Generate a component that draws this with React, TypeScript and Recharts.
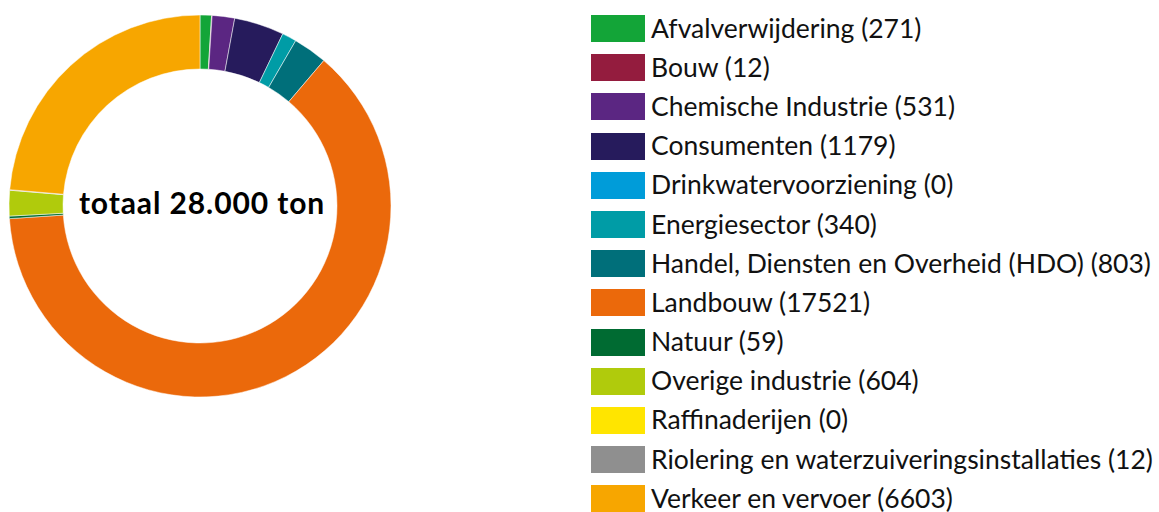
import { PieChart, Pie, Cell, Legend } from 'recharts';

// Emissie per sector (ton)
const sectors = [
    'Afvalverwijdering',
    'Bouw',
    'Chemische Industrie',
    'Consumenten',
    'Drinkwatervoorziening',
    'Energiesector',
    'Handel, Diensten en Overheid (HDO)',
    'Landbouw',
    'Natuur',
    'Overige industrie',
    'Raffinaderijen',
    'Riolering en waterzuiveringsinstallaties',
    'Verkeer en vervoer',
];
const amounts = [271, 12, 531, 1179, 0, 340, 803, 17521, 59, 604, 0, 12, 6603];
const colors = [
    '#13a538',
    '#941c3e',
    '#5b2682',
    '#261b5c',
    '#009cd9',
    '#009ca6',
    '#006f7a',
    '#eb690b',
    '#006b32',
    '#b0cb0c',
    '#ffe500',
    '#8f8f8f',
    '#f7a600',
];
const totalLabel = 'totaal 28.000 ton';

const data = sectors.map((name, i) => ({ name, value: amounts[i] }));

const font = 'Lato, sans-serif';

function SectorLegend() {
    return (
        <div style={{ fontFamily: font }}>
            {sectors.map((name, i) => (
                <div key={name} style={{ display: 'flex', alignItems: 'center', height: 39.2 }}>
                    <div style={{ width: 54, height: 27, background: colors[i], marginRight: 6 }} />
                    <span style={{ fontSize: 26.5, color: '#111', whiteSpace: 'nowrap', marginTop: -2 }}>
                        {name} ({amounts[i]})
                    </span>
                </div>
            ))}
        </div>
    );
}

export default function App() {
    return (
        <div style={{ position: 'absolute', left: 0, top: 0, width: 1159, height: 512 }}>
            <PieChart width={1159} height={512} margin={{ top: 0, right: 0, bottom: 0, left: 0 }}>
                <Pie
                    data={data}
                    dataKey="value"
                    nameKey="name"
                    cx={200}
                    cy={206}
                    innerRadius={137}
                    outerRadius={191}
                    startAngle={90}
                    endAngle={-270}
                    stroke="#fff"
                    strokeWidth={0.5}
                    isAnimationActive={false}
                >
                    {data.map((d, i) => (
                        <Cell key={d.name} fill={colors[i]} />
                    ))}
                </Pie>
                <Legend
                    layout="vertical"
                    content={() => <SectorLegend />}
                    wrapperStyle={{ left: 591, top: 9, width: 568 }}
                />
            </PieChart>
            <div
                style={{
                    position: 'absolute',
                    left: 0,
                    width: 404,
                    top: 184,
                    textAlign: 'center',
                    fontFamily: font,
                    fontWeight: 700,
                    fontSize: 30,
                    letterSpacing: 0.9,
                    lineHeight: '36px',
                    color: '#000',
                }}
            >
                {totalLabel}
            </div>
        </div>
    );
}
